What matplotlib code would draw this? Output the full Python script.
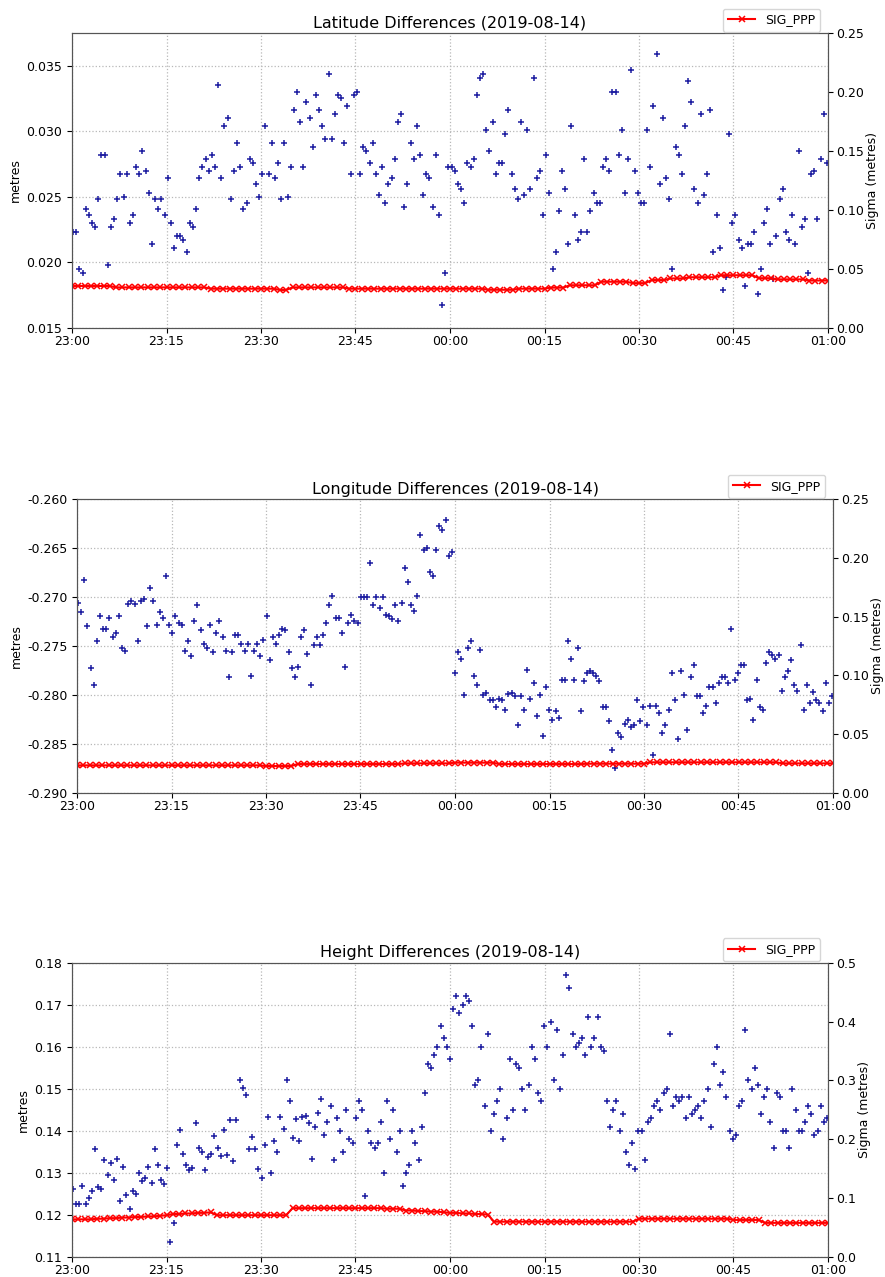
import matplotlib
matplotlib.use("Agg")
import matplotlib.pyplot as plt
import matplotlib.dates as mdates
import pandas as pd

# 緯度差 (30秒ごと)
lat_diff = [
    0.0223, 0.0223, 0.0195, 0.0192, 0.0241, 0.0236, 0.0230, 0.0227, 0.0248, 0.0282,
    0.0282, 0.0198, 0.0227, 0.0233, 0.0248, 0.0267, 0.0250, 0.0267, 0.0230, 0.0236,
    0.0273, 0.0267, 0.0285, 0.0270, 0.0253, 0.0214, 0.0248, 0.0241, 0.0248, 0.0236,
    0.0264, 0.0230, 0.0211, 0.0220, 0.0220, 0.0217, 0.0208, 0.0230, 0.0227, 0.0241,
    0.0264, 0.0273, 0.0279, 0.0270, 0.0282, 0.0273, 0.0335, 0.0264, 0.0304, 0.0310,
    0.0248, 0.0270, 0.0291, 0.0273, 0.0241, 0.0245, 0.0279, 0.0276, 0.0260, 0.0250,
    0.0267, 0.0304, 0.0267, 0.0291, 0.0264, 0.0276, 0.0248, 0.0291, 0.0250, 0.0273,
    0.0316, 0.0330, 0.0307, 0.0273, 0.0322, 0.0310, 0.0288, 0.0328, 0.0316, 0.0304,
    0.0294, 0.0344, 0.0294, 0.0313, 0.0328, 0.0325, 0.0291, 0.0319, 0.0267, 0.0328,
    0.0330, 0.0267, 0.0288, 0.0285, 0.0276, 0.0291, 0.0267, 0.0251, 0.0273, 0.0245,
    0.0260, 0.0264, 0.0279, 0.0307, 0.0313, 0.0242, 0.0260, 0.0291, 0.0279, 0.0304,
    0.0282, 0.0251, 0.0267, 0.0264, 0.0242, 0.0282, 0.0236, 0.0167, 0.0192, 0.0273,
    0.0273, 0.0270, 0.0260, 0.0256, 0.0245, 0.0276, 0.0273, 0.0279, 0.0328, 0.0341,
    0.0344, 0.0301, 0.0285, 0.0307, 0.0267, 0.0276, 0.0276, 0.0298, 0.0316, 0.0267,
    0.0256, 0.0248, 0.0307, 0.0251, 0.0301, 0.0256, 0.0341, 0.0264, 0.0270, 0.0236,
    0.0282, 0.0253, 0.0195, 0.0208, 0.0239, 0.0270, 0.0256, 0.0214, 0.0304, 0.0236,
    0.0217,
    0.0223, 0.0279, 0.0223, 0.0239, 0.0253, 0.0245, 0.0245, 0.0273, 0.0279, 0.0270,
    0.0330, 0.0330, 0.0282, 0.0301, 0.0253, 0.0279, 0.0347, 0.0270, 0.0253, 0.0245,
    0.0245, 0.0301, 0.0273, 0.0319, 0.0359, 0.0260, 0.0310, 0.0264, 0.0248, 0.0195,
    0.0288, 0.0282, 0.0267, 0.0304, 0.0338, 0.0322, 0.0256, 0.0245, 0.0313, 0.0251,
    0.0267, 0.0316, 0.0208, 0.0236, 0.0211, 0.0179, 0.0189, 0.0298, 0.0230, 0.0236,
    0.0217, 0.0211, 0.0182, 0.0214, 0.0214, 0.0223, 0.0176, 0.0195, 0.0230, 0.0241,
    0.0214, 0.0187, 0.0220, 0.0248, 0.0256, 0.0223, 0.0217, 0.0236, 0.0214, 0.0285,
    0.0227, 0.0233, 0.0192, 0.0267, 0.0270, 0.0233, 0.0279, 0.0313, 0.0276,
]

# 経度差 (30秒ごと)
lon_diff = [
    -0.2706, -0.2715, -0.2683, -0.2730, -0.2773, -0.2790, -0.2745, -0.2719, -0.2733, -0.2733,
    -0.2721, -0.2741, -0.2737, -0.2719, -0.2752, -0.2755, -0.2707, -0.2704, -0.2707, -0.2745,
    -0.2704, -0.2702, -0.2730, -0.2691, -0.2704, -0.2729, -0.2715, -0.2721, -0.2678, -0.2729,
    -0.2737, -0.2719, -0.2726, -0.2729, -0.2755, -0.2745, -0.2760, -0.2724, -0.2708, -0.2734,
    -0.2748, -0.2752, -0.2729, -0.2756, -0.2737, -0.2724, -0.2741, -0.2755, -0.2782, -0.2756,
    -0.2739, -0.2739, -0.2748, -0.2755, -0.2748, -0.2781, -0.2755, -0.2748, -0.2760, -0.2744,
    -0.2719, -0.2764, -0.2741, -0.2748, -0.2739, -0.2733, -0.2734, -0.2756, -0.2773, -0.2782,
    -0.2771, -0.2741, -0.2734, -0.2758, -0.2790, -0.2749, -0.2741, -0.2749, -0.2739, -0.2726,
    -0.2708, -0.2699, -0.2721, -0.2721, -0.2737, -0.2771, -0.2726, -0.2718, -0.2724, -0.2726,
    -0.2700, -0.2700, -0.2700, -0.2665, -0.2708, -0.2700, -0.2711, -0.2700, -0.2718, -0.2719,
    -0.2722, -0.2708, -0.2724, -0.2706, -0.2670, -0.2685, -0.2708, -0.2714, -0.2699, -0.2637,
    -0.2652, -0.2650, -0.2674, -0.2678, -0.2652, -0.2627, -0.2631, -0.2621, -0.2658, -0.2654,
    -0.2778, -0.2756, -0.2763, -0.2800, -0.2752, -0.2745, -0.2781, -0.2790, -0.2754, -0.2800,
    -0.2798, -0.2805, -0.2805, -0.2812, -0.2804, -0.2805, -0.2815, -0.2799, -0.2798, -0.2801,
    -0.2831, -0.2801, -0.2815, -0.2775, -0.2804, -0.2788, -0.2822, -0.2800, -0.2842, -0.2792,
    -0.2815, -0.2826, -0.2816, -0.2824, -0.2785, -0.2785, -0.2745, -0.2763, -0.2785, -0.2752,
    -0.2816,
    -0.2786, -0.2778, -0.2776, -0.2778, -0.2781, -0.2786, -0.2812, -0.2812, -0.2827, -0.2856,
    -0.2875, -0.2839, -0.2843, -0.2830, -0.2826, -0.2833, -0.2831, -0.2805, -0.2827, -0.2812,
    -0.2831, -0.2811, -0.2861, -0.2811, -0.2818, -0.2839, -0.2831, -0.2815, -0.2778, -0.2805,
    -0.2845, -0.2776, -0.2800, -0.2836, -0.2782, -0.2769, -0.2801, -0.2801, -0.2818, -0.2811,
    -0.2792, -0.2792, -0.2808, -0.2788, -0.2782, -0.2782, -0.2788, -0.2733, -0.2785, -0.2778,
    -0.2769, -0.2769, -0.2805, -0.2804, -0.2826, -0.2785, -0.2812, -0.2815, -0.2767, -0.2756,
    -0.2759, -0.2763, -0.2759, -0.2796, -0.2782, -0.2776, -0.2764, -0.2790, -0.2796, -0.2749,
    -0.2815, -0.2790, -0.2808, -0.2797, -0.2805, -0.2808, -0.2816, -0.2788, -0.2808, -0.2801,
]

# 高さの差 (30秒ごと)
hgt_diff = [
    0.1261, 0.1227, 0.1227, 0.1270, 0.1225, 0.1240, 0.1257, 0.1357, 0.1267, 0.1262,
    0.1331, 0.1294, 0.1323, 0.1284, 0.1332, 0.1233, 0.1315, 0.1248, 0.1214, 0.1256,
    0.1249, 0.1299, 0.1281, 0.1288, 0.1315, 0.1276, 0.1357, 0.1319, 0.1283, 0.1273,
    0.1311, 0.1136, 0.1181, 0.1366, 0.1402, 0.1345, 0.1318, 0.1308, 0.1311, 0.1418,
    0.1359, 0.1350, 0.1308, 0.1339, 0.1345, 0.1388, 0.1359, 0.1340, 0.1401, 0.1343,
    0.1425, 0.1329, 0.1425, 0.1522, 0.1501, 0.1485, 0.1357, 0.1385, 0.1357, 0.1309,
    0.1289, 0.1366, 0.1434, 0.1300, 0.1377, 0.1350, 0.1432, 0.1405, 0.1520, 0.1471,
    0.1382, 0.1429, 0.1377, 0.1432, 0.1436, 0.1418, 0.1334, 0.1409, 0.1442, 0.1475,
    0.1391,
    0.142, 0.146, 0.133, 0.143, 0.140, 0.135, 0.145, 0.138, 0.137, 0.143,
    0.147, 0.145, 0.1245, 0.140, 0.137, 0.136, 0.137, 0.142, 0.130, 0.147,
    0.138, 0.145, 0.135, 0.140, 0.127, 0.130, 0.132, 0.140, 0.137, 0.133,
    0.141, 0.149, 0.156, 0.155, 0.158, 0.160, 0.165, 0.162, 0.160, 0.157,
    0.169, 0.172, 0.168, 0.170, 0.172, 0.171, 0.165, 0.151, 0.152, 0.160,
    0.146, 0.163, 0.140, 0.144, 0.147, 0.150, 0.138, 0.143, 0.157, 0.145,
    0.156, 0.155, 0.150, 0.145, 0.151, 0.160, 0.157, 0.149, 0.147, 0.165,
    0.160, 0.166, 0.152, 0.164, 0.150, 0.158, 0.177, 0.174, 0.163, 0.160,
    0.161, 0.162, 0.158, 0.167, 0.160, 0.162, 0.167, 0.160, 0.159, 0.147,
    0.141, 0.145, 0.147, 0.140, 0.144, 0.135, 0.132, 0.137, 0.131, 0.140,
    0.140, 0.133, 0.142, 0.143, 0.146, 0.147, 0.145, 0.149, 0.150, 0.163,
    0.146, 0.148, 0.147, 0.148, 0.143, 0.148, 0.144, 0.145, 0.146, 0.143,
    0.147, 0.150, 0.141, 0.156, 0.160, 0.151, 0.154, 0.148, 0.140, 0.138,
    0.139, 0.146, 0.147, 0.164, 0.152, 0.150, 0.155, 0.151, 0.144, 0.148,
    0.150, 0.142, 0.136, 0.149, 0.148, 0.140, 0.140, 0.136, 0.150, 0.145,
    0.140, 0.140, 0.142, 0.146, 0.144, 0.139, 0.140, 0.146, 0.142, 0.143,
]

# SIG_PPP (1分ごと, 23:00〜01:00)
sig_lat = [
    0.0354, 0.0354, 0.0354, 0.0354, 0.0354, 0.0354, 0.0354, 0.0342, 0.0342, 0.0342,
    0.0342, 0.0342, 0.0342, 0.0342, 0.0342, 0.0342, 0.0342, 0.0342, 0.0342, 0.0342,
    0.0342, 0.0342, 0.0331, 0.0331, 0.0331, 0.0331, 0.0331, 0.0331, 0.0331, 0.0331,
    0.0331, 0.0331, 0.0331, 0.0320, 0.0320, 0.0342, 0.0342, 0.0342, 0.0342, 0.0342,
    0.0342, 0.0342, 0.0342, 0.0342, 0.0331, 0.0331, 0.0331, 0.0331, 0.0331, 0.0331,
    0.0331, 0.0331, 0.0331, 0.0331, 0.0331, 0.0331, 0.0331, 0.0331, 0.0331, 0.0331,
    0.0331, 0.0331, 0.0331, 0.0331, 0.0331, 0.0331, 0.0322, 0.0322, 0.0322, 0.0322,
    0.0322, 0.0331, 0.0331, 0.0331, 0.0331, 0.0331, 0.0340, 0.0340, 0.0340, 0.0360,
    0.0360, 0.0360, 0.0360, 0.0360, 0.0390, 0.0390, 0.0390, 0.0390, 0.0390, 0.0378,
    0.0378, 0.0378, 0.0404, 0.0404, 0.0404, 0.0418, 0.0418, 0.0418, 0.0428, 0.0428,
    0.0428, 0.0428, 0.0428, 0.0445, 0.0445, 0.0445, 0.0445, 0.0445, 0.0445, 0.0420,
    0.0420, 0.0420, 0.0410, 0.0410, 0.0410, 0.0410, 0.0410, 0.0400, 0.0400, 0.0400,
    0.0400,
]

sig_lon = [
    0.0233, 0.0233, 0.0233, 0.0233, 0.0233, 0.0233, 0.0233, 0.0233, 0.0233, 0.0233,
    0.0233, 0.0233, 0.0233, 0.0233, 0.0233, 0.0233, 0.0233, 0.0233, 0.0233, 0.0233,
    0.0233, 0.0233, 0.0233, 0.0233, 0.0233, 0.0233, 0.0233, 0.0233, 0.0233, 0.0233,
    0.0227, 0.0227, 0.0227, 0.0227, 0.0227, 0.0244, 0.0244, 0.0244, 0.0244, 0.0244,
    0.0244, 0.0244, 0.0244, 0.0244, 0.0244, 0.0244, 0.0244, 0.0244, 0.0244, 0.0244,
    0.0244, 0.0244, 0.0250, 0.0250, 0.0250, 0.0250, 0.0250, 0.0250, 0.0250, 0.0250,
    0.0256, 0.0256, 0.0256, 0.0256, 0.0256, 0.0256, 0.0256, 0.0244, 0.0244, 0.0244,
    0.0244, 0.0244, 0.0244, 0.0244, 0.0244, 0.0244, 0.0244, 0.0244, 0.0244, 0.0244,
    0.0244, 0.0247, 0.0247, 0.0247, 0.0247, 0.0247, 0.0247, 0.0247, 0.0247, 0.0247,
    0.0247, 0.0259, 0.0259, 0.0259, 0.0259, 0.0259, 0.0259, 0.0259, 0.0259, 0.0259,
    0.0259, 0.0259, 0.0259, 0.0259, 0.0259, 0.0259, 0.0259, 0.0259, 0.0259, 0.0259,
    0.0259, 0.0259, 0.0250, 0.0250, 0.0250, 0.0250, 0.0250, 0.0250, 0.0250, 0.0250,
    0.0250,
]

sig_hgt = [
    0.064, 0.064, 0.064, 0.064, 0.065, 0.065, 0.066, 0.066, 0.067, 0.067,
    0.068, 0.068, 0.069, 0.069, 0.070, 0.071, 0.073, 0.073, 0.074, 0.074,
    0.075, 0.075, 0.076, 0.071, 0.071, 0.071, 0.071, 0.071, 0.071, 0.071,
    0.071, 0.071, 0.071, 0.071, 0.071, 0.083, 0.083, 0.083, 0.083, 0.083,
    0.083, 0.083, 0.083, 0.083, 0.083, 0.083, 0.083, 0.083, 0.083, 0.083,
    0.082, 0.082, 0.082, 0.079, 0.079, 0.078, 0.078, 0.077, 0.077, 0.076,
    0.075, 0.075, 0.074, 0.074, 0.073, 0.073, 0.072, 0.060, 0.060, 0.060,
    0.060, 0.060, 0.060, 0.060, 0.060, 0.060, 0.060, 0.060, 0.060, 0.060,
    0.060, 0.060, 0.060, 0.060, 0.060, 0.060, 0.060, 0.060, 0.060, 0.060,
    0.065, 0.065, 0.065, 0.065, 0.065, 0.065, 0.065, 0.065, 0.065, 0.065,
    0.065, 0.065, 0.065, 0.065, 0.065, 0.063, 0.063, 0.063, 0.063, 0.063,
    0.058, 0.058, 0.058, 0.058, 0.058, 0.058, 0.058, 0.058, 0.058, 0.058,
    0.058,
]

titles = ["Latitude Differences (2019-08-14)",
          "Longitude Differences (2019-08-14)",
          "Height Differences (2019-08-14)"]

lat_ticks = [0.015, 0.020, 0.025, 0.030, 0.035]
lon_ticks = [-0.290, -0.285, -0.280, -0.275, -0.270, -0.265, -0.260]
hgt_ticks = [0.11, 0.12, 0.13, 0.14, 0.15, 0.16, 0.17, 0.18]
sig_ticks_small = [0, 0.05, 0.10, 0.15, 0.20, 0.25]
sig_ticks_large = [0, 0.1, 0.2, 0.3, 0.4, 0.5]

T0 = pd.Timestamp("2019-08-14 23:00:00")
T1 = pd.Timestamp("2019-08-15 01:00:00")

W, H = 885, 1277
fig = plt.figure(figsize=(W / 100, H / 100), dpi=100)


def add_panel(box, title, diff, sig, ylim, yticks, sig_ylim, sig_ticks, yfmt, sfmt):
    l, t, r, b = box
    ax = fig.add_axes([l / W, 1 - b / H, (r - l) / W, (b - t) / H])

    # 差分（青の＋）
    td = pd.date_range(T0 + pd.Timedelta(seconds=10), T1 - pd.Timedelta(seconds=10), periods=len(diff))
    ax.plot(td, diff, "+", color="#1c1ca0", ms=4.5, mew=1.1, zorder=3)
    ax.set_ylim(*ylim)
    ax.set_yticks(yticks)
    ax.set_xlim(T0, T1)
    ax.xaxis.set_major_locator(mdates.MinuteLocator(byminute=[0, 15, 30, 45]))
    ax.xaxis.set_major_formatter(mdates.DateFormatter("%H:%M"))
    ax.yaxis.set_major_formatter(plt.FormatStrFormatter(yfmt))
    ax.grid(True, linestyle=":", color="#b8b8b8", linewidth=0.9)
    ax.set_ylabel("metres", fontsize=9, labelpad=3)
    ax.set_title(title, fontsize=11.5, pad=4)
    ax.tick_params(labelsize=9)
    ax.tick_params(axis="x", pad=1.5)

    # SIG_PPP（赤線＋x）
    ax2 = ax.twinx()
    ts = pd.date_range(T0, T1, periods=len(sig))
    ax2.plot(ts, sig, "-x", color="red", ms=4, mew=1.1, lw=1.5, label="SIG_PPP")
    ax2.set_ylim(*sig_ylim)
    ax2.set_yticks(sig_ticks)
    ax2.yaxis.set_major_formatter(plt.FormatStrFormatter(sfmt))
    ax2.set_ylabel("Sigma (metres)", fontsize=9, labelpad=2)
    ax2.tick_params(labelsize=9, pad=2)
    ax2.legend(loc="lower right", bbox_to_anchor=(0.99, 1.005), fontsize=9,
               borderaxespad=0, handlelength=2.2)

    for a in (ax, ax2):
        for s in a.spines.values():
            s.set_color("#555555")
    return ax


add_panel((72, 33, 828, 327.7), titles[0], lat_diff, sig_lat,
          (0.015, 0.0375), lat_ticks, (0, 0.25), sig_ticks_small, "%.3f", "%.2f")
add_panel((77, 499.3, 833, 792.7), titles[1], lon_diff, sig_lon,
          (-0.290, -0.260), lon_ticks, (0, 0.25), sig_ticks_small, "%.3f", "%.2f")
add_panel((72, 962.7, 828, 1257), titles[2], hgt_diff, sig_hgt,
          (0.11, 0.18), hgt_ticks, (0, 0.5), sig_ticks_large, "%.2f", "%.1f")

fig.savefig("out.png", dpi=100)
